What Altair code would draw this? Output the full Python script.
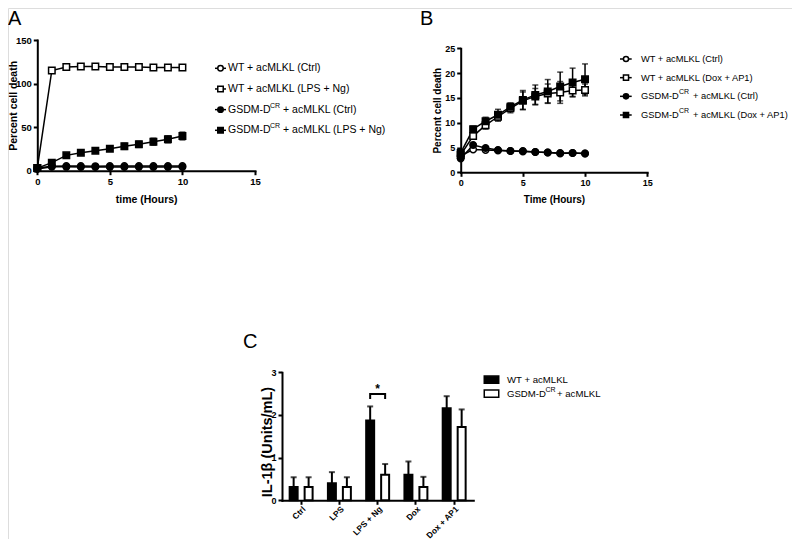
import altair as alt
import pandas as pd

W, H = 784, 531
FONT = "Liberation Sans"

# ---------------- data ----------------
hours = [0, 1, 2, 3, 4, 5, 6, 7, 8, 9, 10]
keys = ["wt_ctrl", "wt_trt", "gsdm_ctrl", "gsdm_trt"]

# Panel A
a_wt_ctrl = [3, 5.2, 5.3, 5.3, 5.2, 5.3, 5.4, 5.4, 5.3, 5.4, 5.4]
a_wt_ctrl_err = [0.5, 0.6, 0.6, 0.6, 0.6, 0.6, 0.6, 0.6, 0.6, 0.6, 0.6]
a_wt_lps = [3, 115, 119, 119.5, 119.5, 119, 119, 119, 118.5, 118.5, 118.5]
a_wt_lps_err = [0.5, 1.0, 0.8, 0.8, 0.8, 0.8, 0.8, 0.8, 0.8, 0.8, 0.8]
a_gsdm_ctrl = [2, 4.5, 4.4, 4.3, 4.3, 4.3, 4.2, 4.2, 4.3, 4.2, 4.2]
a_gsdm_ctrl_err = [0.5, 0.6, 0.6, 0.6, 0.6, 0.6, 0.6, 0.6, 0.6, 0.6, 0.6]
a_gsdm_lps = [3, 9.2, 17.6, 20.7, 23, 25.3, 28, 30.3, 33.3, 36, 39.8]
a_gsdm_lps_err = [0.5, 1.5, 1.5, 2, 2.5, 3, 3.5, 3.5, 4, 4, 4.5]

# Panel B
b_wt_ctrl = [3.3, 4.6, 4.5, 4.4, 4.3, 4.2, 4.1, 4.0, 3.9, 3.9, 3.8]
b_wt_ctrl_err = [0.3, 0.3, 0.3, 0.3, 0.3, 0.3, 0.3, 0.3, 0.3, 0.3, 0.3]
b_wt_dox = [3.5, 7.3, 9.5, 11.2, 12.9, 14.4, 15.3, 15.9, 16.1, 16.5, 16.6]
b_wt_dox_err = [0.4, 0.6, 0.8, 0.9, 0.9, 1.8, 1.6, 1.9, 2.2, 1.2, 1.2]
b_gsdm_ctrl = [2.8, 5.5, 4.9, 4.5, 4.3, 4.3, 4.1, 4.0, 3.8, 3.9, 3.8]
b_gsdm_ctrl_err = [0.3, 0.3, 0.3, 0.3, 0.3, 0.3, 0.3, 0.3, 0.3, 0.3, 0.3]
b_gsdm_dox = [3.9, 8.7, 10.3, 11.6, 13.2, 14.6, 15.6, 16.3, 17.3, 18.1, 18.75]
b_gsdm_dox_err = [0.5, 0.6, 0.8, 1.1, 0.8, 1.9, 2.0, 2.4, 2.9, 2.9, 3.1]

# Panel C
c_categories = ["Ctrl", "LPS", "LPS + Ng", "Dox", "Dox + AP1"]
c_groups = ["WT + acMLKL", "GSDM-DCR + acMLKL"]
c_wt = [0.31, 0.40, 1.87, 0.60, 2.16]
c_wt_err = [0.23, 0.26, 0.33, 0.31, 0.28]
c_gsdm = [0.31, 0.31, 0.60, 0.31, 1.72]
c_gsdm_err = [0.23, 0.23, 0.25, 0.24, 0.41]
c_bracket_y = [2.375, 2.49, 2.49, 2.375]
c_star_y = 2.62

# legends
a_prefix = ["WT + acMLKL (Ctrl)", "WT + acMLKL (LPS + Ng)", "GSDM-D", "GSDM-D"]
a_sup = ["", "", "CR", "CR"]
a_suffix = ["", "", "+ acMLKL (Ctrl)", "+ acMLKL (LPS + Ng)"]
b_prefix = ["WT + acMLKL (Ctrl)", "WT + acMLKL (Dox + AP1)", "GSDM-D", "GSDM-D"]
b_sup = ["", "", "CR", "CR"]
b_suffix = ["", "", "+ acMLKL (Ctrl)", "+ acMLKL (Dox + AP1)"]
c_prefix = ["WT + acMLKL", "GSDM-D"]
c_sup = ["", "CR"]
c_suffix = ["", "+ acMLKL"]

SHAPES = ["circle", "square", "circle", "square"]
FILLS = ["white", "white", "black", "black"]


def long_df(vals, errs):
    rows = []
    for k, v_list, e_list in zip(keys, vals, errs):
        for t, v, e in zip(hours, v_list, e_list):
            rows.append({"hours": t, "key": k, "value": v, "lo": v - e, "hi": v + e})
    return pd.DataFrame(rows)


def axis(orient, values, offset, title, title_fs, label_fs, **kw):
    return alt.Axis(
        orient=orient, values=values, offset=offset, title=title, grid=False,
        domainColor="black", domainWidth=2, domainCap="square",
        tickColor="black", tickWidth=2, tickSize=4,
        labelFont=FONT, labelFontWeight="bold", labelFontSize=label_fs,
        labelColor="black", labelPadding=2, labelFlush=False,
        titleFont=FONT, titleFontWeight="bold", titleFontSize=title_fs,
        titleColor="black", titleBaseline="alphabetic", **kw)


def time_panel(df, xr, yr, ydom, yvals, x_axis_y, y_axis_x, xtitle, ytitle,
               tfs, lfs, pt_size, cap, x_title_y, y_title_x):
    xax = axis("bottom", [0, 5, 10, 15], x_axis_y - H, xtitle, tfs, lfs, titleY=x_title_y)
    yax = axis("left", yvals, -y_axis_x, ytitle, tfs, lfs, titleX=y_title_x)
    xs = alt.Scale(domain=[0, 15], range=xr, nice=False, zero=False)
    ys = alt.Scale(domain=ydom, range=yr, nice=False)
    x = alt.X("hours:Q", scale=xs, axis=xax)
    shape = alt.Shape("key:N", scale=alt.Scale(domain=keys, range=SHAPES), legend=None)
    fill = alt.Fill("key:N", scale=alt.Scale(domain=keys, range=FILLS), legend=None)
    base = alt.Chart(df)
    err = base.mark_rule(color="black", strokeWidth=1.5).encode(
        x=x, y=alt.Y("lo:Q", scale=ys, axis=yax), y2="hi:Q")
    caps = base.transform_fold(["lo", "hi"], as_=["end", "yv"]).mark_tick(
        orient="horizontal", color="black", size=cap, thickness=1.5).encode(
        x=x, y=alt.Y("yv:Q", scale=ys, axis=yax))
    line = base.mark_line(color="black", strokeWidth=1.5).encode(
        x=x, y=alt.Y("value:Q", scale=ys, axis=yax), detail="key:N")
    pts = base.mark_point(filled=True, stroke="black", strokeWidth=1.5,
                          size=pt_size, opacity=1).encode(
        x=x, y=alt.Y("value:Q", scale=ys, axis=yax), shape=shape, fill=fill)
    return alt.layer(err, caps, line, pts)


# ---------------- panel A ----------------
dfa = long_df([a_wt_ctrl, a_wt_lps, a_gsdm_ctrl, a_gsdm_lps],
              [a_wt_ctrl_err, a_wt_lps_err, a_gsdm_ctrl_err, a_gsdm_lps_err])
panel_a = time_panel(dfa, [29.3, 247], [162.7, 32], [0, 150], [0, 50, 100, 150],
                     162.7, 29.3, "time (Hours)", "Percent cell death",
                     10.5, 9.5, 42, 6, 31.3, -20.6)

# ---------------- panel B ----------------
dfb = long_df([b_wt_ctrl, b_wt_dox, b_gsdm_ctrl, b_gsdm_dox],
              [b_wt_ctrl_err, b_wt_dox_err, b_gsdm_ctrl_err, b_gsdm_dox_err])
panel_b = time_panel(dfb, [452.7, 639.2], [164.3, 40.3], [0, 25], [0, 5, 10, 15, 20, 25],
                     164.3, 452.7, "Time (Hours)", "Percent cell death",
                     10, 9, 42, 6, 29.7, -20.7)

# ---------------- panel C ----------------
crow = []
for i, c in enumerate(c_categories):
    crow.append({"cat": c, "group": c_groups[0], "value": c_wt[i], "top": c_wt[i] + c_wt_err[i]})
    crow.append({"cat": c, "group": c_groups[1], "value": c_gsdm[i], "top": c_gsdm[i] + c_gsdm_err[i]})
dfc = pd.DataFrame(crow)

cx_axis = alt.Axis(
    orient="bottom", offset=492.3 - H, title=None, grid=False,
    domainColor="black", domainWidth=2, domainCap="square",
    tickColor="black", tickWidth=2, tickSize=4,
    labelFont=FONT, labelFontWeight="bold", labelFontSize=8.4, labelColor="black",
    labelAngle=-45, labelAlign="right", labelBaseline="top", labelPadding=0)
cy_axis = axis("left", [0, 1, 2, 3], -274, "IL-1β (Units/mL)", 14.5, 9,
               titleX=-10.5, titleY=433.5)
cxs = alt.Scale(domain=c_categories, range=[274, 465.3], paddingInner=0.4, paddingOuter=0.2)
cys = alt.Scale(domain=[0, 3], range=[492.3, 364.3], nice=False)
cx = alt.X("cat:N", scale=cxs, axis=cx_axis, sort=c_categories)
cxo = alt.XOffset("group:N", scale=alt.Scale(domain=c_groups, paddingInner=0.467, paddingOuter=0))
cfill = alt.Fill("group:N", scale=alt.Scale(domain=c_groups, range=["black", "white"]), legend=None)

cbase = alt.Chart(dfc)
bars = cbase.mark_bar(stroke="black", strokeWidth=2).encode(
    x=cx, xOffset=cxo, y=alt.Y("value:Q", scale=cys, axis=cy_axis), fill=cfill)
cerr = cbase.mark_rule(color="black", strokeWidth=2).encode(
    x=cx, xOffset=cxo, y=alt.Y("value:Q", scale=cys, axis=cy_axis), y2="top:Q")
ccap = cbase.mark_tick(orient="horizontal", color="black", size=6, thickness=2).encode(
    x=cx, xOffset=cxo, y=alt.Y("top:Q", scale=cys, axis=cy_axis))
dfbr = pd.DataFrame({"cat": ["LPS + Ng"] * 4,
                     "group": [c_groups[0], c_groups[0], c_groups[1], c_groups[1]],
                     "y": c_bracket_y, "idx": [0, 1, 2, 3]})
bracket = alt.Chart(dfbr).mark_line(color="black", strokeWidth=2).encode(
    x=cx, xOffset=cxo, y=alt.Y("y:Q", scale=cys, axis=cy_axis), order="idx:Q")
star = alt.Chart(pd.DataFrame({"cat": ["LPS + Ng"], "y": [c_star_y], "t": ["*"]})).mark_text(
    font=FONT, fontSize=12, fontWeight="bold", color="black", baseline="middle").encode(
    x=cx, y=alt.Y("y:Q", scale=cys, axis=cy_axis), text="t:N")
panel_c = alt.layer(bars, cerr, ccap, bracket, star)


# ---------------- legends ----------------
def legend(prefix, sup, suffix, lkeys, shapes, fills, yr, x_line, x_pt, x_txt, x_sup, x_suf,
           fs, sfs, pt_size, with_line=True):
    n = len(prefix)
    df = pd.DataFrame({"row": list(range(n)), "key": lkeys, "prefix": prefix,
                       "sup": sup, "suffix": suffix})
    y = alt.Y("row:Q", scale=alt.Scale(domain=[0, n - 1], range=yr, nice=False, zero=False), axis=None)
    base = alt.Chart(df)
    layers = []
    if with_line:
        layers.append(base.mark_rule(color="black", strokeWidth=1.5).encode(
            x=alt.value(x_line[0]), x2=alt.value(x_line[1]), y=y))
    layers.append(base.mark_point(filled=True, stroke="black", strokeWidth=1.5,
                                  size=pt_size, opacity=1).encode(
        x=alt.value(x_pt), y=y,
        shape=alt.Shape("key:N", scale=alt.Scale(domain=lkeys, range=shapes), legend=None),
        fill=alt.Fill("key:N", scale=alt.Scale(domain=lkeys, range=fills), legend=None)))
    tprops = dict(font=FONT, fontWeight="normal", color="black", align="left", baseline="middle")
    layers.append(base.mark_text(fontSize=fs, **tprops).encode(
        x=alt.value(x_txt), y=y, text="prefix:N"))
    layers.append(base.transform_filter("datum.sup != ''").mark_text(
        fontSize=sfs, dy=-4, **tprops).encode(x=alt.value(x_sup), y=y, text="sup:N"))
    layers.append(base.transform_filter("datum.suffix != ''").mark_text(
        fontSize=fs, **tprops).encode(x=alt.value(x_suf), y=y, text="suffix:N"))
    return alt.layer(*layers)


legend_a = legend(a_prefix, a_sup, a_suffix, keys, SHAPES, FILLS, [60.3, 122.3],
                  [207, 218], 212.5, 220, 262, 275, 10.5, 7, 30)
legend_b = legend(b_prefix, b_sup, b_suffix, keys, SHAPES, FILLS, [51, 107],
                  [612, 623.7], 618, 633, 671, 685, 9.3, 7, 26)
RECT = "M-1,-0.5L1,-0.5L1,0.5L-1,0.5Z"
legend_c = legend(c_prefix, c_sup, c_suffix, c_groups, [RECT, RECT], ["black", "white"],
                  [371.7, 385.7], [0, 0], 483.5, 499, 537.5, 549, 9.6, 7, 210,
                  with_line=False)

# ---------------- panel letters ----------------
letters = []
for txt, lx, ly, bl in [("A", 0, 0.5, "top"), ("B", 412, 0.5, "top"), ("C", 235, 340, "alphabetic")]:
    letters.append(alt.Chart(pd.DataFrame({"t": [txt]})).mark_text(
        font=FONT, fontSize=20, fontWeight="normal", color="black", align="left",
        baseline=bl).encode(x=alt.value(lx), y=alt.value(ly), text="t:N"))

chart = alt.layer(panel_a, panel_b, panel_c, legend_a, legend_b, legend_c, *letters).resolve_scale(
    x="independent", y="independent", shape="independent", fill="independent"
).properties(
    width=W, height=H, padding=0, autosize=alt.AutoSizeParams(type="none")
).configure_view(stroke=None).configure(background="white")

chart.save("out.html", embed_options={"renderer": "svg", "actions": False})
